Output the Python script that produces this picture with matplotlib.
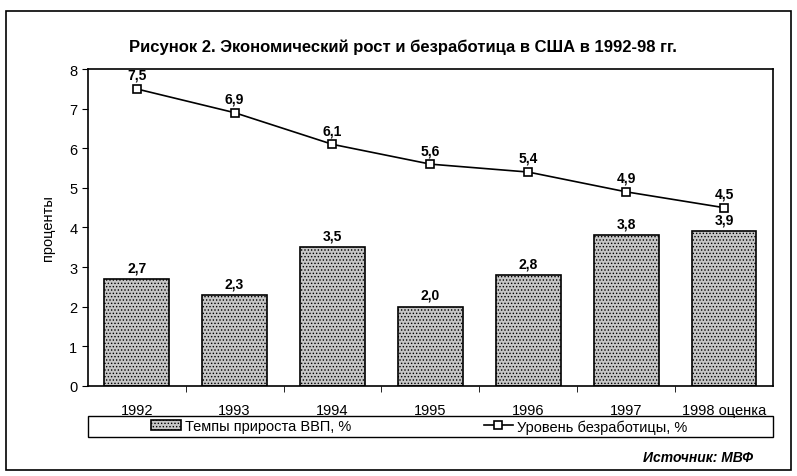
import matplotlib
matplotlib.use("Agg")
import matplotlib.pyplot as plt
from matplotlib.patches import Rectangle
import numpy as np

plt.rcParams['font.family'] = ['Liberation Sans Narrow', 'Liberation Sans', 'DejaVu Sans']
plt.rcParams['hatch.color'] = '#555555'
plt.rcParams['hatch.linewidth'] = 0.6

years = ['1992', '1993', '1994', '1995', '1996', '1997', '1998 оценка']
gdp_growth = [2.7, 2.3, 3.5, 2.0, 2.8, 3.8, 3.9]
unemployment = [7.5, 6.9, 6.1, 5.6, 5.4, 4.9, 4.5]

fig = plt.figure(figsize=(7.97, 4.77), dpi=100)
ax = fig.add_axes([0.110, 0.189, 0.860, 0.664])

x = np.arange(len(years))
bars = ax.bar(x, gdp_growth, width=0.66, color='#c6c6c6', edgecolor='black',
              linewidth=1.2, hatch='.....', label='Темпы прироста ВВП, %')
line, = ax.plot(x, unemployment, color='black', linewidth=1.2, marker='s',
                markersize=6, markerfacecolor='white', markeredgecolor='black',
                markeredgewidth=1.2, label='Уровень безработицы, %')

for xi, v in zip(x, gdp_growth):
    ax.text(xi, v + 0.12, f'{v:.1f}'.replace('.', ','), ha='center', va='bottom',
            fontsize=10, fontweight='bold')
for xi, v in zip(x, unemployment):
    ax.text(xi, v + 0.18, f'{v:.1f}'.replace('.', ','), ha='center', va='bottom',
            fontsize=10, fontweight='bold')

ax.set_xlim(-0.5, len(years) - 0.5)
ax.set_ylim(0, 8)
ax.set_yticks(range(0, 9))
ax.set_xticks(x)
ax.set_xticklabels(years, fontsize=10.5)
ax.set_xticks(np.arange(0.5, len(years) - 0.5), minor=True)
ax.tick_params(axis='x', which='major', length=0, pad=12)
ax.tick_params(axis='x', which='minor', length=4, direction='out')
ax.tick_params(axis='y', labelsize=10.5, length=4, direction='out')
ax.set_ylabel('проценты', fontsize=10.5, labelpad=10)
for s in ax.spines.values():
    s.set_linewidth(1.2)

fig.text(0.505, 0.900, 'Рисунок 2. Экономический рост и безработица в США в 1992-98 гг.',
         ha='center', va='center', fontsize=12, fontweight='bold')

# legend box under the x labels, two entries placed by hand
fig.patches.append(Rectangle((0.110, 0.082), 0.860, 0.044, transform=fig.transFigure,
                             fill=False, edgecolor='black', linewidth=1.0))
fig.legend(handles=[bars], loc='center left', bbox_to_anchor=(0.190, 0.104),
           fontsize=10.5, frameon=False, borderaxespad=0, borderpad=0,
           handlelength=2.0, handletextpad=0.3)
fig.legend(handles=[line], loc='center left', bbox_to_anchor=(0.607, 0.104),
           fontsize=10.5, frameon=False, borderaxespad=0, borderpad=0,
           handlelength=2.0, handletextpad=0.3)

fig.text(0.945, 0.040, 'Источник: МВФ', ha='right', va='center', fontsize=10,
         fontstyle='italic', fontweight='bold')

fig.patches.append(Rectangle((0.007, 0.012), 0.986, 0.962, transform=fig.transFigure,
                             fill=False, edgecolor='black', linewidth=1.2))

fig.savefig('out.png', dpi=100)
